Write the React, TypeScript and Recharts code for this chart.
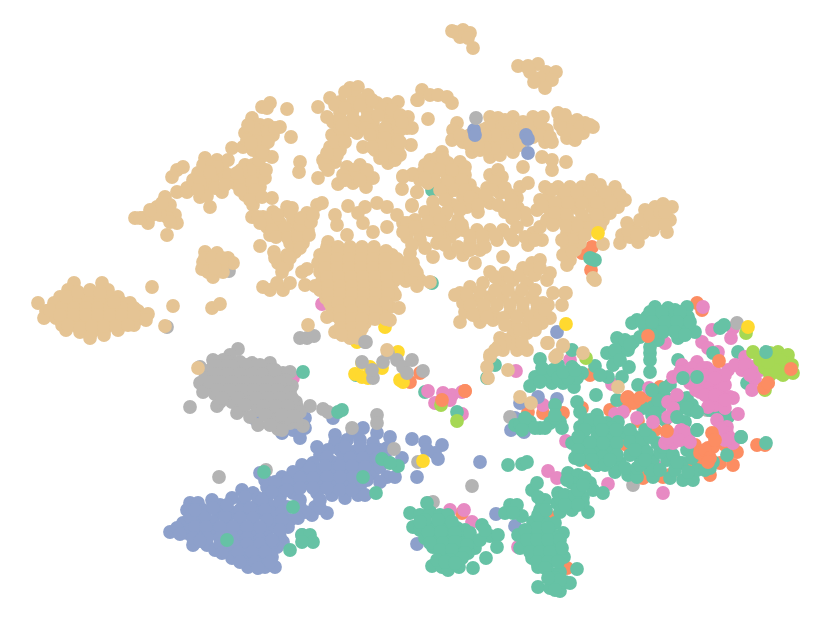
import React from "react";
import { ScatterChart, Scatter, XAxis, YAxis } from "recharts";

type P = [number, number];

const orangeLow: P[] = [[648,336],[764,388],[768,383],[667,433],[638,421],[616,453],[628,397],[640,398],[633,403],[660,387],[655,430],[737,452],[733,465],[720,463],[757,445],[765,445],[663,477],[670,475],[643,478],[627,445],[590,375],[528,412],[543,413],[563,413],[582,408],[702,310],[697,303],[692,463],[710,475],[590,463],[592,247],[582,253],[591,270],[462,513],[550,517],[567,568],[450,560],[410,382],[420,373],[465,391],[610,410],[625,408],[650,400],[700,465],[695,445],[725,445]];
const pinkLow: P[] = [[703,307],[712,330],[733,328],[731,338],[665,343],[702,342],[708,348],[718,352],[612,384],[570,360],[516,371],[543,405],[566,441],[548,471],[557,478],[608,484],[663,493],[429,503],[450,510],[464,510],[472,522],[438,517],[518,547],[577,493],[322,304],[293,378],[462,414],[655,465],[615,414],[623,412]];
const bluePoints: P[] = [[335,435],[353,432],[363,428],[377,433],[390,437],[335,443],[347,440],[360,440],[373,443],[387,448],[340,450],[353,452],[367,452],[380,450],[317,447],[320,455],[332,462],[343,457],[357,463],[370,462],[302,465],[313,463],[293,472],[307,472],[320,470],[333,472],[347,470],[360,472],[373,473],[387,477],[395,477],[260,473],[265,480],[282,477],[267,487],[280,487],[293,483],[307,483],[320,482],[333,483],[347,483],[360,487],[358,495],[365,495],[345,498],[332,495],[242,490],[253,493],[267,497],[280,497],[293,493],[317,493],[232,498],[220,505],[243,503],[257,505],[273,507],[287,507],[300,500],[315,507],[327,513],[312,515],[190,503],[198,503],[187,510],[203,510],[218,513],[233,513],[247,513],[260,513],[273,517],[290,520],[183,523],[170,532],[177,528],[198,522],[213,522],[227,522],[240,523],[253,523],[267,528],[275,527],[288,527],[187,533],[200,533],[213,533],[227,533],[240,533],[253,533],[267,537],[280,537],[283,542],[193,545],[207,545],[215,550],[227,548],[240,545],[253,545],[267,547],[277,547],[232,558],[245,557],[258,557],[272,557],[248,567],[265,567],[275,567],[302,535],[412,439],[425,442],[427,450],[442,445],[435,453],[438,459],[402,458],[417,477],[480,462],[417,544],[255,419],[282,433],[293,430],[305,418],[305,428],[300,438],[333,418],[538,397],[520,403],[557,399],[557,332],[515,418],[511,430],[524,432],[496,514],[515,526]];
const blueFill: P[] = [[345,447],[360,447],[373,450],[328,450],[327,457],[350,458],[363,458],[377,458],[385,455],[310,468],[325,466],[340,466],[352,466],[365,467],[380,467],[300,478],[313,478],[327,477],[340,477],[353,477],[367,480],[380,482],[287,482],[275,482],[300,488],[313,488],[327,488],[340,490],[352,490],[272,492],[287,490],[258,498],[245,497],[262,500],[280,503],[240,510],[225,510],[250,508],[265,510],[300,507],[305,512],[320,508],[320,500],[205,516],[190,517],[225,516],[240,518],[253,518],[267,520],[282,512],[282,520],[195,527],[206,527],[220,527],[233,527],[247,527],[260,527],[280,530],[180,534],[193,538],[207,538],[220,538],[233,538],[247,538],[260,540],[273,542],[200,541],[220,544],[233,544],[247,544],[260,544],[272,540],[222,553],[238,552],[252,552],[265,552],[240,562],[255,562],[270,562],[258,568],[298,518],[212,500],[227,505],[213,508],[195,510]];
const grayPoints: P[] = [[238,349],[230,355],[213,360],[200,367],[223,360],[200,383],[203,392],[190,407],[217,406],[215,362],[228,362],[240,362],[252,363],[270,363],[210,370],[222,370],[234,370],[246,370],[258,370],[270,370],[205,378],[215,378],[227,378],[239,378],[251,378],[263,378],[275,378],[290,372],[283,373],[212,386],[224,386],[236,386],[248,386],[260,386],[272,386],[284,386],[292,386],[215,394],[227,394],[239,394],[251,394],[263,394],[275,394],[287,394],[220,402],[232,402],[250,402],[262,402],[274,402],[286,402],[296,402],[240,410],[257,410],[270,410],[282,410],[294,410],[310,406],[297,407],[237,413],[250,417],[258,425],[275,420],[287,420],[278,429],[290,423],[303,426],[297,422],[282,430],[323,409],[328,412],[352,428],[377,415],[377,423],[394,449],[418,462],[266,470],[219,477],[472,486],[300,338],[307,338],[314,336],[229,271],[167,327],[375,317],[510,417],[633,485],[737,323],[707,410],[433,502],[440,517]];
const grayFill: P[] = [[222,366],[216,366],[232,366],[246,365],[260,365],[262,374],[240,374],[228,374],[216,374],[252,374],[275,370],[285,380],[210,382],[220,382],[232,382],[244,382],[256,382],[268,382],[280,382],[218,390],[230,390],[242,390],[254,390],[266,390],[278,390],[290,392],[222,398],[238,398],[256,398],[268,398],[280,398],[292,398],[245,405],[263,406],[276,406],[288,406],[300,412],[265,415],[282,415],[294,416],[270,425]];
const greenPoints: P[] = [[410,513],[413,527],[420,515],[430,512],[427,503],[440,515],[448,515],[420,530],[433,527],[447,527],[457,528],[425,538],[437,538],[450,538],[463,538],[472,540],[433,547],[447,547],[460,547],[475,548],[482,525],[490,536],[498,535],[497,547],[468,553],[445,555],[457,555],[486,558],[432,566],[442,567],[448,570],[459,567],[473,568],[510,505],[517,505],[505,513],[522,516],[513,513],[532,490],[537,483],[542,503],[540,510],[533,522],[545,522],[555,523],[563,533],[518,535],[530,535],[542,535],[553,535],[520,548],[532,545],[543,547],[555,543],[532,558],[543,558],[555,557],[564,557],[538,567],[550,573],[560,572],[577,569],[538,587],[553,585],[560,591],[565,582],[570,583],[550,588],[568,473],[578,475],[572,483],[558,493],[557,503],[570,503],[560,512],[572,510],[588,512],[583,497],[590,483],[597,465],[593,490],[583,503],[603,493],[655,307],[668,308],[687,307],[647,317],[660,317],[673,317],[688,317],[637,320],[632,323],[657,327],[670,325],[683,327],[695,332],[645,327],[678,338],[658,340],[720,328],[724,325],[617,338],[633,342],[622,348],[607,353],[615,355],[628,350],[613,365],[629,367],[650,353],[650,360],[678,360],[738,352],[713,353],[650,372],[638,385],[596,395],[617,400],[622,377],[608,377],[595,366],[600,375],[540,359],[535,377],[530,386],[550,375],[558,365],[572,367],[582,373],[552,383],[563,383],[574,387],[572,350],[547,377],[577,402],[555,405],[515,425],[530,422],[540,428],[550,423],[560,422],[562,428],[580,412],[597,415],[580,427],[593,427],[607,423],[618,422],[572,443],[583,437],[597,437],[610,437],[623,433],[635,437],[583,447],[597,450],[610,450],[575,458],[597,465],[620,463],[615,472],[628,475],[637,477],[653,477],[670,478],[683,480],[693,480],[643,447],[657,443],[667,453],[640,457],[653,460],[667,460],[682,463],[687,450],[697,470],[710,468],[713,462],[727,455],[741,437],[766,443],[697,430],[653,407],[660,407],[643,408],[663,393],[687,398],[687,408],[677,410],[697,412],[677,417],[685,422],[710,410],[717,410],[728,417],[697,377],[683,378],[652,390],[747,383],[508,465],[522,464],[527,462],[303,372],[338,412],[342,410],[382,459],[398,466],[390,463],[376,493],[293,507],[227,540],[290,550],[302,535],[310,535],[313,542],[302,542],[363,477],[264,472],[495,365],[487,378],[432,190],[432,283],[592,259],[590,258],[595,260],[356,375],[425,392],[457,412]];
const greenFill: P[] = [[425,520],[438,520],[452,522],[465,530],[428,532],[441,532],[455,533],[470,533],[430,543],[443,543],[455,542],[467,545],[480,540],[440,550],[452,550],[465,553],[450,560],[462,558],[437,560],[445,562],[455,563],[420,522],[485,530],[537,528],[548,528],[525,530],[527,540],[537,540],[548,540],[560,540],[530,552],[540,552],[550,552],[562,548],[537,562],[548,562],[558,562],[545,568],[555,578],[560,580],[548,578],[555,590],[545,500],[538,497],[538,515],[546,510],[560,498],[565,495],[575,495],[578,490],[565,505],[578,505],[567,480],[585,478],[583,485],[650,312],[662,312],[675,310],[680,312],[642,322],[652,322],[665,322],[677,322],[690,322],[663,332],[675,332],[685,335],[652,335],[640,337],[625,340],[615,350],[630,345],[620,360],[650,347],[542,368],[553,370],[565,373],[577,378],[540,382],[558,378],[568,378],[563,372],[575,370],[520,425],[535,428],[545,428],[525,418],[555,418],[522,430],[555,415],[585,420],[590,420],[600,422],[612,428],[585,430],[602,430],[616,430],[630,430],[578,437],[590,443],[603,443],[617,443],[630,442],[642,440],[578,450],[590,455],[603,457],[617,455],[630,455],[580,460],[592,460],[605,465],[610,460],[625,468],[637,468],[650,470],[660,470],[675,470],[647,452],[660,452],[650,437],[663,447],[673,455],[692,458],[705,470],[640,465],[688,472],[677,462],[652,415],[658,400],[670,400],[680,405],[692,405],[645,430],[655,413],[665,420],[635,450],[645,460],[670,385],[665,388],[690,410],[680,398]];
const pinkTop: P[] = [[673,377],[682,365],[697,362],[687,370],[707,368],[690,383],[702,383],[728,370],[720,380],[710,387],[720,390],[730,397],[710,400],[720,403],[733,398],[745,357],[752,367],[742,370],[760,370],[755,379],[752,390],[677,395],[668,402],[673,408],[668,417],[678,435],[673,443],[665,443],[687,437],[718,435],[727,427],[733,443],[681,430],[670,440],[727,433],[717,420],[738,414],[649,388],[653,422],[637,418],[428,391],[435,403],[443,393],[452,395],[462,392],[450,400]];
const pinkFill: P[] = [[680,372],[692,368],[703,368],[692,375],[705,375],[715,372],[696,390],[712,393],[725,385],[725,375],[735,365],[745,365],[750,375],[760,365],[715,378],[700,392],[715,405],[725,408],[705,395],[715,395],[725,400],[708,407],[672,435],[685,432],[668,438],[680,440],[690,442],[720,428],[730,438],[725,440]];
const limePoints: P[] = [[753,352],[770,353],[778,352],[788,355],[787,363],[775,365],[765,368],[793,373],[780,373],[770,375],[783,375],[586,358],[746,333],[765,390],[457,421],[441,405],[760,360],[770,360],[780,360],[785,368],[775,370],[768,362],[792,365]];
const greenTop: P[] = [[766,352],[697,377],[683,378],[741,437],[687,408],[652,390],[677,417],[697,412],[697,430]];
const orangeTop: P[] = [[719,361],[791,369],[648,336],[667,431],[764,388],[768,383],[442,400],[465,391],[708,448],[705,453],[713,447],[700,453],[712,433],[705,450],[710,458],[715,440],[708,462],[627,398],[635,402],[640,398]];
const yellowPoints: P[] = [[748,327],[355,374],[362,363],[370,367],[362,377],[382,368],[398,352],[400,380],[403,382],[368,378],[357,342],[423,461],[385,327]];
const grayOver: P[] = [[366,342],[362,362],[388,353],[383,362],[373,378],[372,370],[397,360],[403,367],[412,360],[407,373],[423,371]];
const tanPoints: P[] = [
[455,32],[463,30],[470,33],[460,37],[468,38],[473,48],[452,31],[518,66],[528,66],[538,64],[530,72],[546,72],[556,72],[540,78],[552,80],[534,82],[545,88],[528,68],
[74,283],[68,290],[102,283],[108,290],[60,297],[70,297],[84,297],[96,297],[110,297],[118,297],[38,303],[54,303],[64,303],[76,303],[88,303],[100,303],[112,303],[122,303],[130,303],[46,311],[58,311],[68,311],[80,311],[92,311],[104,311],[116,311],[128,311],[138,311],[148,314],[44,318],[56,318],[68,318],[80,318],[92,318],[104,318],[116,318],[128,318],[140,318],[62,325],[74,325],[86,325],[98,325],[110,325],[122,325],[134,325],[66,330],[80,332],[92,332],[104,332],[118,330],[90,338],[104,335],[152,287],[173,306],[165,326],
[135,218],[143,218],[148,223],[157,207],[165,197],[163,210],[175,215],[177,223],[167,217],[167,235],[172,177],[177,170],[183,167],[177,192],[187,192],[187,188],[198,173],[205,158],[207,170],[217,160],[220,173],[213,180],[223,170],[228,160],[232,148],[200,197],[210,207],[207,187],[222,192],[235,183],
[245,165],[253,165],[260,167],[245,177],[257,175],[265,178],[240,183],[248,187],[260,187],[245,195],[257,195],[272,198],[253,205],[245,133],[252,118],[260,125],[268,125],[280,127],[273,135],[263,135],[250,137],[243,147],[253,150],[263,147],[272,157],[262,107],[270,103],[267,108],[287,109],[291,137],[300,162],[299,172],
[350,88],[358,87],[368,95],[355,97],[340,102],[330,98],[318,107],[327,117],[340,113],[353,110],[367,110],[377,103],[387,104],[398,102],[417,100],[347,123],[360,123],[373,123],[383,115],[393,120],[405,122],[332,135],[343,135],[357,133],[380,133],[393,133],[407,128],[330,147],[340,150],[363,147],[377,143],[390,143],[411,145],[323,160],[335,162],[380,158],[388,163],[400,155],[318,178],[347,167],[360,165],[350,175],[363,175],[373,178],[338,184],[353,183],[366,187],[403,176],[413,174],[402,189],[417,192],[412,205],
[252,217],[263,217],[273,212],[287,207],[292,208],[267,227],[280,223],[293,220],[307,213],[317,205],[322,203],[270,235],[283,233],[297,230],[308,230],[290,243],[303,243],[295,252],[283,260],[278,263],[287,265],[282,272],[260,246],[274,252],[335,215],[337,225],[348,206],[347,235],[328,242],[365,207],[377,203],[387,207],[397,215],[358,213],[363,223],[373,232],[387,227],[403,223],[413,222],
[205,252],[217,253],[228,258],[233,263],[203,262],[202,269],[213,277],[210,265],[222,265],[223,272],[302,272],[307,269],[263,287],[270,290],[277,283],[283,290],[290,283],[212,308],[220,304],[308,325],
[327,247],[338,247],[350,247],[362,247],[374,247],[320,255],[332,255],[344,255],[356,255],[368,255],[380,255],[392,255],[318,263],[330,263],[342,263],[354,263],[366,263],[378,263],[390,263],[402,263],[320,272],[332,272],[344,272],[356,272],[368,272],[380,272],[392,272],[404,272],[414,272],[322,281],[334,281],[346,281],[358,281],[370,281],[382,281],[394,281],[406,281],[305,285],[320,290],[334,290],[346,290],[358,290],[370,290],[382,290],[326,298],[338,298],[350,298],[362,298],[374,298],[386,298],[395,295],[332,307],[344,307],[356,307],[368,307],[380,307],[390,307],[334,315],[346,315],[358,315],[370,315],[345,323],[357,323],[365,323],[382,315],[390,320],[335,332],[348,332],[360,332],[350,338],[358,338],[399,308],[327,317],[388,282],[393,292],
[422,90],[418,100],[430,95],[438,95],[447,97],[452,103],[428,119],[457,123],[453,130],[452,140],[463,142],[472,152],[480,140],[490,117],[498,118],[487,128],[497,130],[507,133],[513,117],[490,143],[503,143],[515,140],[490,157],[500,155],[513,152],[533,117],[543,117],[523,122],[537,127],[547,130],[533,137],[545,142],[552,142],[558,113],[567,120],[577,120],[585,123],[593,127],[563,130],[573,130],[583,133],[567,138],[575,140],[542,157],[552,160],[552,170],[566,162],[523,167],
[442,152],[430,160],[423,172],[437,165],[448,163],[460,162],[465,167],[412,175],[403,177],[433,175],[447,175],[458,175],[428,183],[442,185],[455,183],[470,185],[448,193],[417,192],[433,202],[412,206],
[490,175],[498,170],[502,177],[495,182],[487,188],[475,193],[463,198],[453,205],[467,207],[478,212],[490,203],[500,193],[510,195],[520,187],[528,183],[517,198],[505,212],[518,208],[512,218],[527,220],[545,187],
[427,213],[445,215],[458,220],[415,220],[407,223],[420,227],[433,223],[447,227],[407,237],[420,240],[437,243],[450,237],[463,230],[477,230],[490,230],[503,230],[517,227],[533,233],[540,227],[470,243],[483,240],[497,240],[513,240],[528,245],[542,240],[450,253],[463,255],[480,250],[475,263],[503,257],[433,257],[410,253],[413,263],[405,277],[417,273],[420,280],[430,282],[417,286],
[558,187],[570,187],[582,187],[592,180],[600,185],[615,187],[563,197],[575,198],[587,197],[600,197],[613,195],[625,200],[540,200],[548,198],[537,210],[548,208],[563,210],[577,208],[592,207],[605,208],[618,207],[547,220],[560,220],[573,223],[590,220],[603,220],[610,213],[567,233],[577,233],[583,228],[567,247],[580,243],[570,260],[567,265],[603,244],[593,278],[595,280],
[627,223],[622,235],[620,243],[630,237],[638,242],[643,233],[653,230],[667,232],[670,220],[660,222],[648,222],[645,210],[655,207],[663,204],[672,207],
[490,272],[505,273],[523,268],[532,263],[540,260],[550,273],[547,280],[553,293],[566,293],[562,305],[460,293],[455,295],[470,287],[483,283],[500,283],[513,280],[527,283],[463,303],[477,300],[490,297],[503,297],[517,297],[532,297],[543,303],[460,322],[465,312],[480,313],[493,313],[480,322],[493,320],[510,313],[523,310],[537,310],[550,318],[515,325],[528,323],[542,323],[500,338],[513,335],[527,333],[490,355],[503,350],[517,350],[527,350],[548,343],[563,346],[557,355],[498,347],
[565,293],[547,343],[563,345],[583,353],[555,357],[508,370],[520,397],[531,403],[618,387],[353,337],[387,350],[490,357],[487,367],[488,378],[198,368],
];
const tanFill: P[] = [
[50,310],[62,308],[74,308],[86,308],[98,308],[110,308],[122,308],[134,308],[60,315],[74,315],[86,315],[98,315],[110,315],[122,315],[134,315],[146,320],[68,325],[80,328],[92,326],[104,326],[116,326],[128,325],[66,297],[78,292],[90,290],[100,292],[114,302],
[140,218],[152,215],[160,215],[170,205],[155,213],[150,210],[162,203],[170,222],[193,180],[203,165],[212,165],[205,177],[217,167],[225,177],[215,188],[207,196],[229,175],[200,183],[225,185],[210,172],[198,190],
[250,170],[241,170],[252,182],[266,170],[255,190],[240,190],[250,200],[262,197],[237,173],[259,160],[258,130],[254,128],[268,132],[275,128],[247,140],[258,142],[268,142],[248,125],[265,155],[262,152],[251,143],
[258,217],[268,220],[278,215],[260,223],[272,230],[285,228],[276,237],[288,238],[298,237],[300,225],[290,213],[301,218],[293,250],[300,248],[287,255],[283,268],[290,258],[275,258],[311,222],[309,235],[313,215],
[326,251],[338,251],[350,251],[362,251],[374,251],[386,251],[325,259],[337,259],[349,259],[361,259],[373,259],[385,259],[397,259],[325,268],[337,268],[349,268],[361,268],[373,268],[385,268],[397,268],[409,268],[327,277],[339,277],[351,277],[363,277],[375,277],[387,277],[399,277],[411,277],[315,286],[328,286],[340,286],[352,286],[364,286],[376,286],[388,286],[328,294],[340,294],[352,294],[364,294],[376,294],[388,294],[330,303],[338,303],[350,303],[362,303],[374,303],[386,303],[340,311],[352,311],[364,311],[376,311],[340,319],[352,319],[362,319],[375,319],[386,319],[340,328],[352,328],[362,328],[342,335],[354,335],
[345,92],[352,103],[362,100],[335,105],[345,108],[360,105],[372,100],[382,108],[392,110],[333,122],[340,120],[353,118],[367,118],[378,115],[388,125],[398,125],[400,115],[412,128],[340,128],[350,130],[365,128],[372,130],[385,128],[400,130],[335,142],[345,142],[330,155],[337,155],[327,153],[370,135],[385,138],[398,140],[383,150],[392,150],[375,150],[385,155],[395,160],[398,148],[342,125],[325,165],[328,170],[353,170],[343,175],[367,170],[355,178],[345,180],[360,180],[380,145],[372,147],[408,117],[400,142],[402,122],
[425,165],[437,158],[443,158],[430,168],[440,170],[452,170],[465,175],[420,180],[434,180],[448,182],[462,180],[440,190],[455,190],[465,190],[445,200],[425,178],
[470,135],[460,135],[470,145],[483,130],[492,125],[502,125],[480,150],[495,148],[507,148],[500,138],[485,148],[510,125],[515,130],[505,120],[478,145],[520,130],[525,125],[530,125],[540,135],[520,145],[540,122],[550,137],[495,135],[485,135],[560,120],[570,127],[573,123],[580,127],[568,130],[577,135],[560,125],[565,115],[590,125],
[425,212],[436,212],[447,212],[410,230],[420,233],[430,230],[440,235],[455,232],[470,236],[482,235],[495,235],[510,235],[525,237],[535,240],[445,245],[458,247],[470,250],[485,247],[412,245],[425,248],[410,260],[415,270],[428,222],[440,220],[452,227],[462,225],[437,232],[415,227],[403,232],[470,197],[480,200],[492,190],[505,188],[512,200],[498,205],[485,195],[478,205],[460,210],[510,205],[525,213],[515,215],
[552,190],[565,192],[577,192],[590,192],[605,192],[620,195],[542,205],[555,203],[568,203],[582,203],[597,203],[611,203],[555,213],[567,215],[582,215],[597,215],[553,225],[566,226],[578,226],[590,228],[572,240],[562,240],[575,250],[585,235],[600,226],[563,255],[572,252],
[635,228],[640,220],[650,215],[660,212],[665,212],[655,225],[665,225],[628,230],[637,235],
[495,277],[510,277],[520,275],[530,270],[535,275],[540,268],[467,295],[480,292],[495,290],[508,290],[522,290],[535,290],[470,305],[484,305],[497,305],[510,305],[523,303],[537,303],[548,305],[473,315],[487,317],[503,318],[517,317],[530,317],[540,316],[505,325],[520,330],[535,330],[510,343],[522,343],[505,340],[535,325],[500,345],[495,350],[545,310],
[205,258],[212,258],[222,258],[208,272],[215,268],
];
const topMarksBlue: P[] = [[474,130],[475,135],[526,135],[528,139],[528,153]];
const topMarksGray: P[] = [[476,118],[365,342]];
const topMarksYellow: P[] = [[598,233],[566,324]];

const toRows = (pts: P[]) => pts.map(([x, y]) => ({ x, y }));

const layers: { name: string; pts: P[]; color: string }[] = [
  { name: "orange", pts: orangeLow, color: "#fc8d62" },
  { name: "pink", pts: pinkLow, color: "#e78ac3" },
  { name: "blue", pts: [...bluePoints, ...blueFill], color: "#8da0cb" },
  { name: "gray", pts: [...grayPoints, ...grayFill], color: "#b3b3b3" },
  { name: "green", pts: [...greenPoints, ...greenFill], color: "#66c2a5" },
  { name: "pinkTop", pts: [...pinkTop, ...pinkFill], color: "#e78ac3" },
  { name: "lime", pts: limePoints, color: "#a6d854" },
  { name: "greenTop", pts: greenTop, color: "#66c2a5" },
  { name: "orangeTop", pts: orangeTop, color: "#fc8d62" },
  { name: "yellow", pts: yellowPoints, color: "#ffd92f" },
  { name: "grayOver", pts: grayOver, color: "#b3b3b3" },
  { name: "tan", pts: [...tanPoints, ...tanFill], color: "#e5c494" },
  { name: "blueTop", pts: topMarksBlue, color: "#8da0cb" },
  { name: "grayTop", pts: topMarksGray, color: "#b3b3b3" },
  { name: "yellowTop", pts: topMarksYellow, color: "#ffd92f" },
];

export default function App() {
  return (
    <div style={{ position: "absolute", left: 0, top: 0, width: 831, height: 619, background: "#fff" }}>
      <ScatterChart width={831} height={619} margin={{ top: 0, right: 0, bottom: 0, left: 0 }}>
        <XAxis type="number" dataKey="x" domain={[0, 831]} hide />
        <YAxis type="number" dataKey="y" domain={[0, 619]} reversed hide />
        {layers.map((l) => (
          <Scatter
            key={l.name}
            name={l.name}
            data={toRows(l.pts)}
            fill={l.color}
            isAnimationActive={false}
            shape={(p: any) => <circle cx={p.cx} cy={p.cy} r={6.9} fill={l.color} />}
          />
        ))}
      </ScatterChart>
    </div>
  );
}
